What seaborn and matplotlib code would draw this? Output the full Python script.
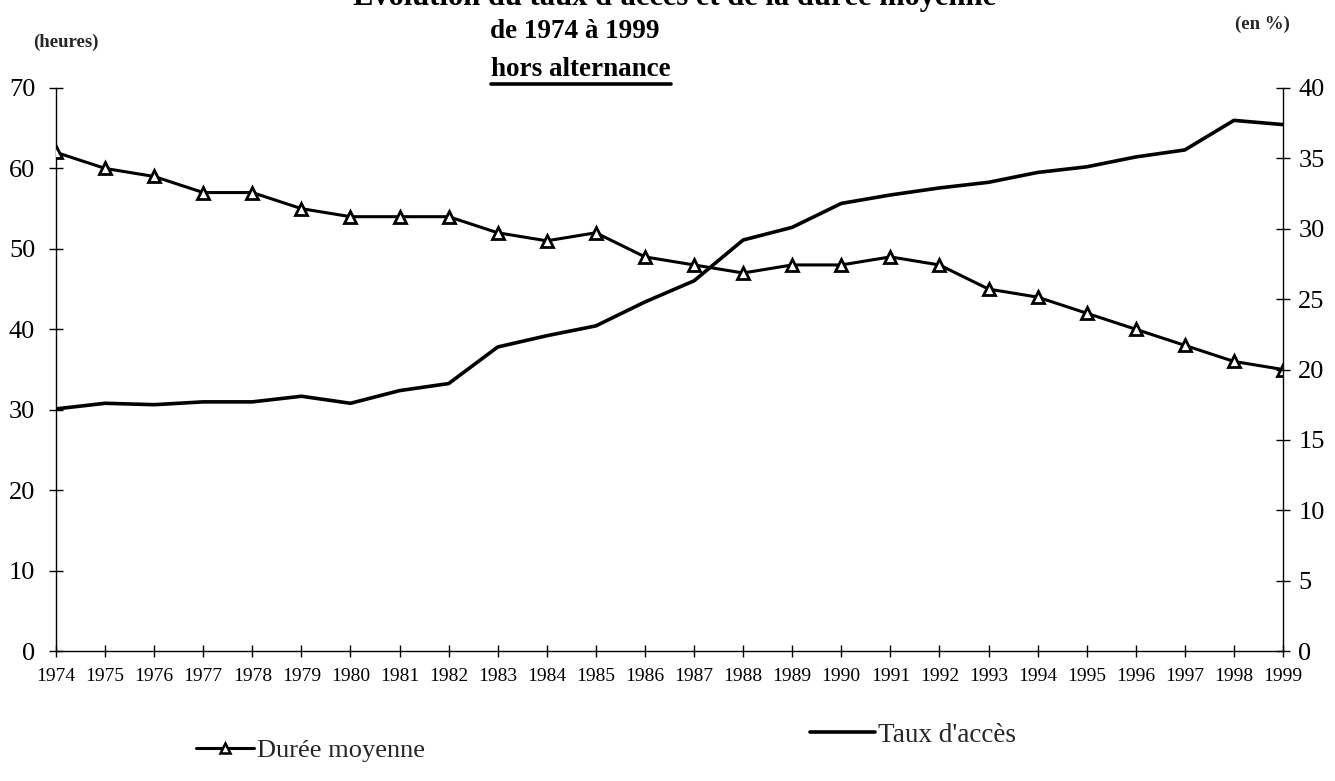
import matplotlib
matplotlib.use("Agg")
import matplotlib.pyplot as plt
import seaborn as sns
import pandas as pd
from matplotlib.lines import Line2D

years = list(range(1974, 2000))
duree_moyenne = [62, 60, 59, 57, 57, 55, 54, 54, 54, 52, 51, 52, 49, 48, 47,
                 48, 48, 49, 48, 45, 44, 42, 40, 38, 36, 35]
taux_acces = [17.2, 17.6, 17.5, 17.7, 17.7, 18.1, 17.6, 18.5, 19.0, 21.6, 22.4,
              23.1, 24.8, 26.3, 29.2, 30.1, 31.8, 32.4, 32.9, 33.3, 34.0, 34.4,
              35.1, 35.6, 37.7, 37.4]
left_ticks = [0, 10, 20, 30, 40, 50, 60, 70]
right_ticks = [0, 5, 10, 15, 20, 25, 30, 35, 40]

df = pd.DataFrame({"annee": years, "duree": duree_moyenne, "taux": taux_acces})

sns.set_theme(style="white")
plt.rcParams["font.family"] = ["Liberation Serif", "DejaVu Serif"]

W, H = 1335, 781
fig = plt.figure(figsize=(W / 100, H / 100), dpi=100)
ax = fig.add_axes([56 / W, 1 - 651 / H, (1283 - 56) / W, (651 - 88) / H])
ax2 = ax.twinx()

sns.lineplot(data=df, x="annee", y="duree", ax=ax, color="black", lw=2.2,
             marker="^", markersize=8, markerfacecolor="white",
             markeredgecolor="black", markeredgewidth=2, label="Durée moyenne",
             legend=False, zorder=3)
sns.lineplot(data=df, x="annee", y="taux", ax=ax2, color="black", lw=2.6,
             label="Taux d'accès", legend=False)

ax.set_xlim(1974, 1999)
ax.set_ylim(0, 70)
ax2.set_ylim(0, 40)
ax.set_xticks(years)
ax.set_xticklabels([str(y) for y in years], fontsize=14)
ax.set_yticks(left_ticks)
ax.set_yticklabels([str(v) for v in left_ticks], fontsize=19)
ax2.set_yticks(right_ticks)
ax2.set_yticklabels([str(v) for v in right_ticks], fontsize=19)
ax.set_xlabel("")
ax.set_ylabel("")
ax2.set_ylabel("")

for a in (ax, ax2):
    a.set_facecolor("none")
    a.grid(False)
    for s in a.spines.values():
        s.set_visible(False)
    a.tick_params(colors="black")
ax.spines["left"].set_visible(True)
ax.spines["bottom"].set_visible(True)
ax2.spines["right"].set_visible(True)
for s in (ax.spines["left"], ax.spines["bottom"], ax2.spines["right"]):
    s.set_color("black")
    s.set_linewidth(1.0)

ax.tick_params(axis="y", direction="inout", length=10, width=1, pad=10, left=True)
ax.tick_params(axis="x", direction="inout", length=9, width=1, pad=8, bottom=True)
ax2.tick_params(axis="y", direction="inout", length=10, width=1, pad=6, right=True)

# Titles
title_kw = dict(ha="center", fontweight="bold", color="black")
fig.text(675 / W, 1 - 5 / H, "Évolution du taux d'accès et de la durée moyenne",
         va="baseline", fontsize=22, **title_kw)
fig.text(575 / W, 1 - 31 / H, "de 1974 à 1999", va="center", fontsize=19.5, **title_kw)
t3 = fig.text(581 / W, 1 - 70 / H, "hors alternance", va="center", fontsize=19.5,
              **title_kw)
fig.text(66 / W, 1 - 42 / H, "(heures)", ha="center", va="center",
         fontsize=13.5, fontweight="bold")
fig.text(1262 / W, 1 - 24 / H, "(en %)", ha="center", va="center",
         fontsize=13.5, fontweight="bold")

fig.canvas.draw()
bb = t3.get_window_extent()
uy = bb.y0 - 1
fig.add_artist(Line2D([bb.x0 / W, bb.x1 / W], [uy / H, uy / H],
                      transform=fig.transFigure, color="black", lw=2.6))

# Legends
h1 = Line2D([], [], color="black", lw=2.2, marker="^", markersize=7,
            markerfacecolor="white", markeredgecolor="black", markeredgewidth=1.8)
h2 = Line2D([], [], color="black", lw=2.6)
leg1 = fig.legend([h1], ["Durée moyenne"], loc="center left",
                  bbox_to_anchor=(196 / W, 1 - 750 / H), frameon=False,
                  fontsize=19, handlelength=2.2, handletextpad=0.1,
                  borderaxespad=0, borderpad=0)
leg2 = fig.legend([h2], ["Taux d'accès"], loc="center left",
                  bbox_to_anchor=(810 / W, 1 - 735 / H), frameon=False,
                  fontsize=19.5, handlelength=2.4, handletextpad=0.1,
                  borderaxespad=0, borderpad=0)

fig.savefig("out.png", dpi=100, facecolor="white")
